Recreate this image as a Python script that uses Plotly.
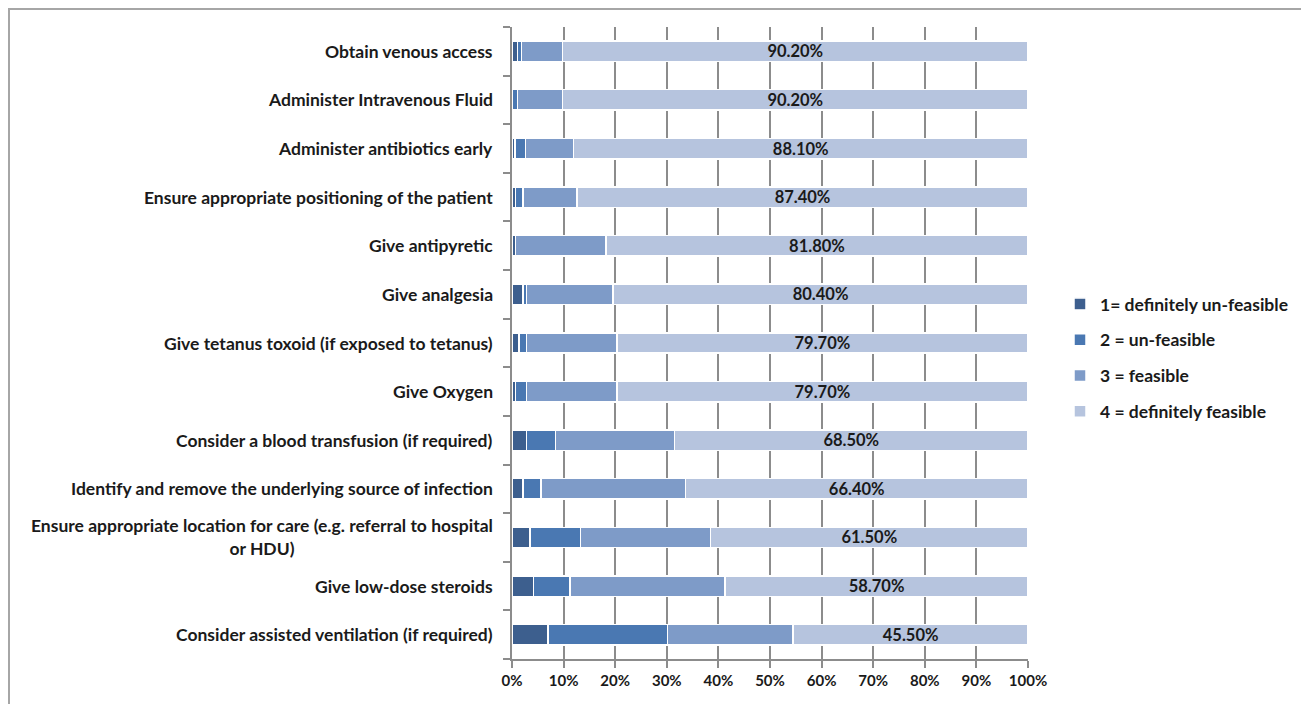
import plotly.graph_objects as go

categories = [
    "Obtain venous access",
    "Administer Intravenous Fluid",
    "Administer antibiotics early",
    "Ensure appropriate positioning of the patient",
    "Give antipyretic",
    "Give analgesia",
    "Give tetanus toxoid (if exposed to tetanus)",
    "Give Oxygen",
    "Consider a blood transfusion (if required)",
    "Identify and remove the underlying source of infection",
    "Ensure appropriate location for care (e.g. referral to hospital<br>or HDU)",
    "Give low-dose steroids",
    "Consider assisted ventilation (if required)",
]

definitely_unfeasible = [1.1, 0.0, 0.6, 0.7, 0.7, 2.1, 1.4, 0.7, 2.8, 2.1, 3.5, 4.2, 7.0]
unfeasible = [0.7, 1.1, 2.0, 1.4, 0.0, 0.7, 1.4, 2.1, 5.6, 3.5, 9.8, 7.0, 23.1]
feasible = [8.0, 8.7, 9.3, 10.5, 17.5, 16.8, 17.5, 17.5, 23.1, 28.0, 25.2, 30.1, 24.4]
definitely_feasible = [90.2, 90.2, 88.1, 87.4, 81.8, 80.4, 79.7, 79.7, 68.5, 66.4, 61.5, 58.7, 45.5]

series_names = ["1= definitely un-feasible", "2 = un-feasible", "3 = feasible", "4 = definitely feasible"]
series_values = [definitely_unfeasible, unfeasible, feasible, definitely_feasible]
colors = ["#3d5f8e", "#4a78b2", "#7e9bc8", "#b6c4de"]

x_ticks = list(range(0, 101, 10))
positions = list(range(len(categories)))

FONT = "Lato"
FS_LABEL = 17.5
FS_BAR = 16.5
FS_TICK = 15
FS_LEG = 17.5

# plot area inside the figure (figure sits 8px in from the page edge)
L, R, T, B = 504, 1020, 19, 651
W_FIG, H_FIG = 1301, 696
PW, PH = R - L, B - T

fig = go.Figure()
for i, (name, vals, col) in enumerate(zip(series_names, series_values, colors)):
    show_text = (i == 3)
    fig.add_trace(go.Bar(
        y=positions,
        x=vals,
        name=name,
        orientation="h",
        marker=dict(color=col, line=dict(color="white", width=1.5)),
        width=0.42,
        legendgroup=str(i),
        text=[f"{v:.2f}%" for v in vals] if show_text else None,
        textposition="inside" if show_text else "none",
        insidetextanchor="middle",
        textfont=dict(family=FONT, size=FS_BAR, color="#1a1a1a", weight="bold"),
        constraintext="none",
        hoverinfo="x+name",
    ))

for p, cat in zip(positions, categories):
    fig.add_annotation(
        x=0, xref="paper", xanchor="right", xshift=-17,
        y=p, yref="y", yanchor="middle",
        text=f"<b>{cat}</b>", showarrow=False, align="center",
        font=dict(family=FONT, size=FS_LABEL, color="#1a1a1a"),
    )

fig.update_layout(
    width=W_FIG, height=H_FIG,
    barmode="stack",
    paper_bgcolor="white", plot_bgcolor="white",
    margin=dict(l=L, r=W_FIG - R, t=T, b=H_FIG - B, autoexpand=False),
    uniformtext=dict(mode=False),
    showlegend=True,
    legend=dict(
        x=(1060 - 512) / PW, y=(659 - 286) / PH, xanchor="left", yanchor="top",
        traceorder="grouped", tracegroupgap=10,
        font=dict(family=FONT, size=FS_LEG, color="#1a1a1a", weight="bold"),
        itemwidth=30,
    ),
    xaxis=dict(
        range=[0, 100],
        tickvals=x_ticks,
        ticktext=[f"{t}%" for t in x_ticks],
        ticks="outside", ticklen=7, tickcolor="#8c8c8c", tickwidth=1.5,
        showgrid=True, gridcolor="#8c8c8c", gridwidth=1.5,
        showline=True, linecolor="#8c8c8c", linewidth=1.5,
        tickfont=dict(family=FONT, size=FS_TICK, color="#1a1a1a", weight="bold"),
        zeroline=False, fixedrange=True,
    ),
    yaxis=dict(
        range=[len(categories) - 0.5, -0.5],
        tickvals=positions,
        showticklabels=False,
        ticks="",
        showgrid=False, zeroline=False,
        showline=True, linecolor="#8c8c8c", linewidth=1.5,
        minor=dict(
            tickvals=[p - 0.5 for p in positions] + [len(categories) - 0.5],
            ticks="outside", ticklen=7, tickcolor="#8c8c8c", tickwidth=1.5,
            showgrid=False,
        ),
        fixedrange=True,
    ),
    shapes=[dict(
        type="rect", xref="paper", yref="paper",
        x0=(1 - L) / PW, x1=(1297 - L) / PW,
        y0=(B - 710) / PH, y1=(B - 1) / PH,
        line=dict(color="#a6a6a6", width=2), fillcolor="rgba(0,0,0,0)", layer="below",
    )],
)

fig.write_html("out.html")
